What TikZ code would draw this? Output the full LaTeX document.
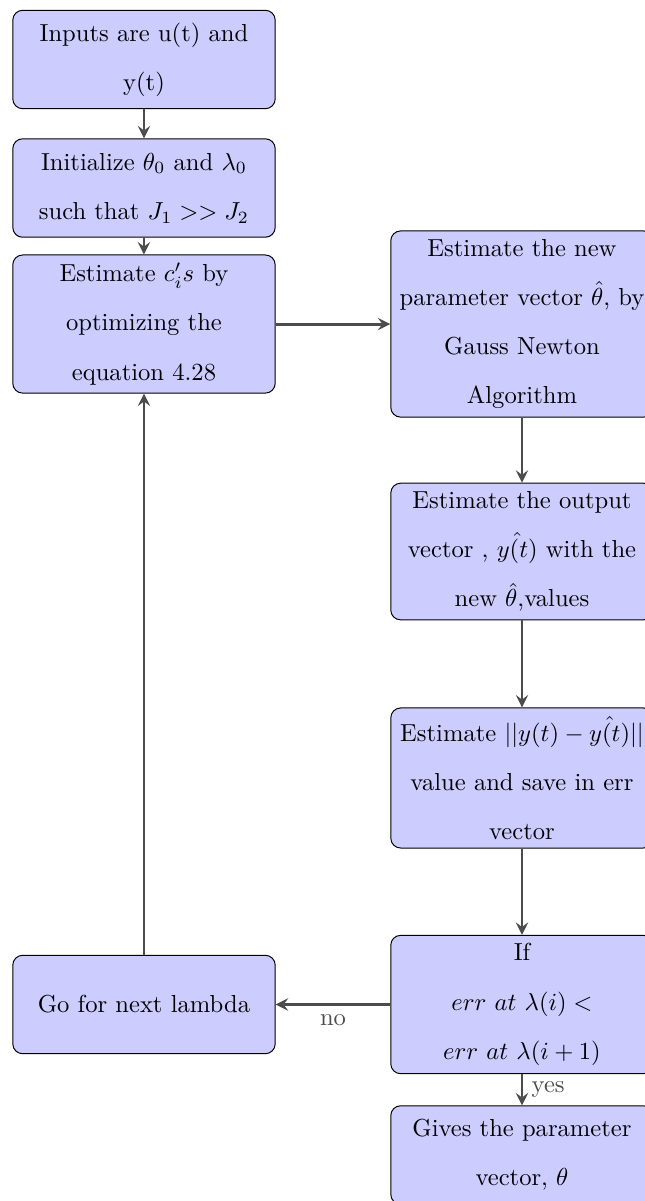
\documentclass[tikz,border=0pt]{standalone}
\tikzset{
  block/.style={rectangle, draw, fill=blue!20, text width=10em, align=flush center, rounded corners, minimum height=4em, font=\linespread{1.667}\selectfont},
  line/.style={draw, -stealth, very thick, black!70}
}
\begin{document}
\begin{tikzpicture}
	\useasboundingbox (0,0) rectangle (9.214,-17.157);
	\node[block] (input) at (2.057,-0.850) {Inputs are u(t) and y(t)};
	\node[block] (init) at (2.057,-2.686) {Initialize $\theta_0$ and $\lambda_0$ such that $J_1 >> J_2$};
	\node[block] (coeff) at (2.057,-4.629) {Estimate $c_i's$ by optimizing the equation 4.28};
	\node[block] (newton) at (7.457,-4.629) {Estimate the new parameter vector $\hat{\theta}$, by Gauss Newton Algorithm};
	\node[block] (output) at (7.457,-7.879) {Estimate the output vector , $\hat{y(t)}$ with the new $\hat{\theta}$,values};
	\node[block] (error) at (7.457,-11.114) {Estimate $||y(t)-\hat{y(t)}||$ value and save in err vector};
	\node[block] (check) at (7.457,-14.350) {If\\ $err\ at\ \lambda(i) <$\\ $err\ at\ \lambda(i+1)$};
	\node[block] (next) at (2.057,-14.350) {Go for next lambda};
	\node[block] (result) at (7.457,-16.500) {Gives the parameter vector, $\theta$};
	\draw[line] (input) -- (init);
	\draw[line] (init) -- (coeff);
	\draw[line] (coeff) -- (newton);
	\draw[line] (newton) -- (output);
	\draw[line] (output) -- (error);
	\draw[line] (error) -- (check);
	\draw[line] (check) -- node[below] {no} (next);
	\draw[line] (next) -- (coeff);
	\draw[line] (check) -- node[right] {yes} (result);
\end{tikzpicture}
\end{document}
